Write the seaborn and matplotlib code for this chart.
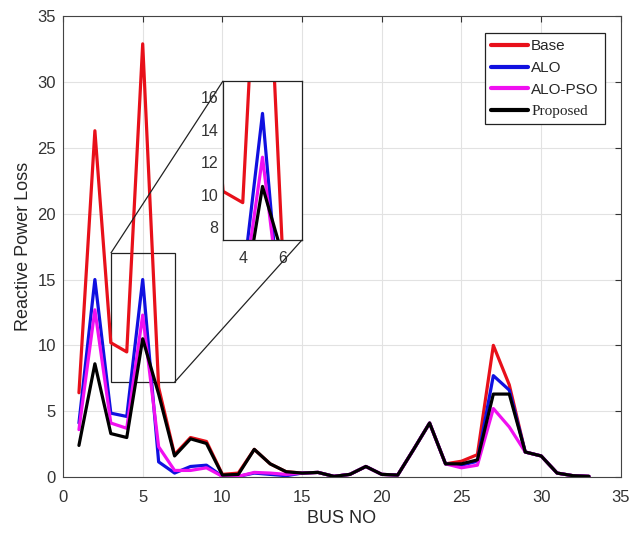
import matplotlib
matplotlib.use("Agg")
import matplotlib.pyplot as plt
import seaborn as sns
import pandas as pd
from mpl_toolkits.axes_grid1.inset_locator import mark_inset

# ---- data ----
bus = list(range(1, 34))
base = [6.4, 26.3, 10.2, 9.5, 32.9, 6.8, 1.7, 3.0, 2.7, 0.2, 0.3, 2.1, 1.0, 0.4, 0.3,
        0.35, 0.05, 0.2, 0.8, 0.2, 0.15, 2.1, 4.1, 1.0, 1.2, 1.7, 10.0, 7.0, 1.9, 1.6,
        0.3, 0.1, 0.05]
alo = [4.1, 15.0, 4.85, 4.6, 15.0, 1.15, 0.3, 0.8, 0.9, 0.05, 0.05, 0.3, 0.2, 0.1, 0.3,
       0.35, 0.05, 0.2, 0.8, 0.2, 0.15, 2.1, 4.1, 1.0, 0.9, 1.2, 7.7, 6.6, 1.9, 1.6,
       0.3, 0.1, 0.05]
alo_pso = [3.6, 12.7, 4.1, 3.7, 12.3, 2.3, 0.5, 0.5, 0.7, 0.05, 0.05, 0.35, 0.3, 0.2, 0.3,
           0.35, 0.05, 0.2, 0.8, 0.2, 0.15, 2.1, 4.1, 1.0, 0.7, 0.9, 5.2, 3.8, 1.9, 1.6,
           0.3, 0.1, 0.05]
proposed = [2.4, 8.6, 3.3, 3.0, 10.5, 6.3, 1.6, 2.9, 2.55, 0.15, 0.2, 2.1, 1.0, 0.4, 0.3,
            0.35, 0.05, 0.2, 0.8, 0.2, 0.15, 2.1, 4.1, 1.0, 1.0, 1.3, 6.3, 6.3, 1.9, 1.6,
            0.3, 0.1, 0.05]
methods = ["Base", "ALO", "ALO-PSO", "Proposed"]
colors = {"Base": "#e8101a", "ALO": "#1010e0", "ALO-PSO": "#f010f0", "Proposed": "#000000"}

frames = []
for name, vals in zip(methods, [base, alo, alo_pso, proposed]):
    frames.append(pd.DataFrame({"bus": bus, "loss": vals, "method": name}))
df = pd.concat(frames, ignore_index=True)

sns.set_style("white")
plt.rcParams["font.family"] = ["Liberation Sans", "DejaVu Sans"]

fig = plt.figure(figsize=(6.39, 5.34), dpi=100)
ax = fig.add_axes([0.0986, 0.1067, 0.873, 0.863])

sns.lineplot(data=df, x="bus", y="loss", hue="method", hue_order=methods,
             palette=colors, linewidth=2.3, ax=ax)

ax.set_xlim(0, 35)
ax.set_ylim(0, 35)
ax.set_xticks(range(0, 36, 5))
ax.set_yticks(range(0, 36, 5))
ax.grid(True, color="#e2e2e2", linewidth=0.8)
ax.tick_params(direction="in", length=4, labelsize=12, top=True, right=True,
               colors="#333333", labelcolor="#333333")
ax.tick_params(axis="x", pad=9)
ax.tick_params(axis="y", pad=5)
for sp in ax.spines.values():
    sp.set_color("#444444")
    sp.set_linewidth(0.8)
ax.set_xlabel("BUS NO", fontsize=13, labelpad=4)
ax.set_ylabel("Reactive Power Loss", fontsize=13, labelpad=4)

leg = ax.legend(loc="upper right", bbox_to_anchor=(0.9713, 0.963), borderaxespad=0,
                fontsize=11, handlelength=2.4, handletextpad=0.2, labelspacing=0.5,
                frameon=True, fancybox=False, framealpha=1, edgecolor="#222222",
                borderpad=0.4)
for line in leg.get_lines():
    line.set_linewidth(3)
leg.get_texts()[3].set_fontfamily("Liberation Serif")
leg.get_frame().set_linewidth(0.9)

# ---- zoomed inset ----
axins = fig.add_axes([0.349, 0.5506, 0.1236, 0.2978])
sns.lineplot(data=df, x="bus", y="loss", hue="method", hue_order=methods,
             palette=colors, linewidth=2.3, ax=axins, legend=False)
axins.set_xlim(3, 7)
axins.set_ylim(7.2, 17)
axins.set_xticks([4, 6])
axins.set_yticks([8, 10, 12, 14, 16])
axins.set_xlabel("")
axins.set_ylabel("")
axins.tick_params(direction="in", length=3, labelsize=11.5, colors="#333333",
                  labelcolor="#333333")
axins.tick_params(axis="x", pad=8)
for sp in axins.spines.values():
    sp.set_color("#222222")
    sp.set_linewidth(0.9)

mark_inset(ax, axins, loc1=2, loc2=4, fc="none", ec="#222222", lw=0.9)

fig.savefig("out.png", dpi=100)
plt.close(fig)
